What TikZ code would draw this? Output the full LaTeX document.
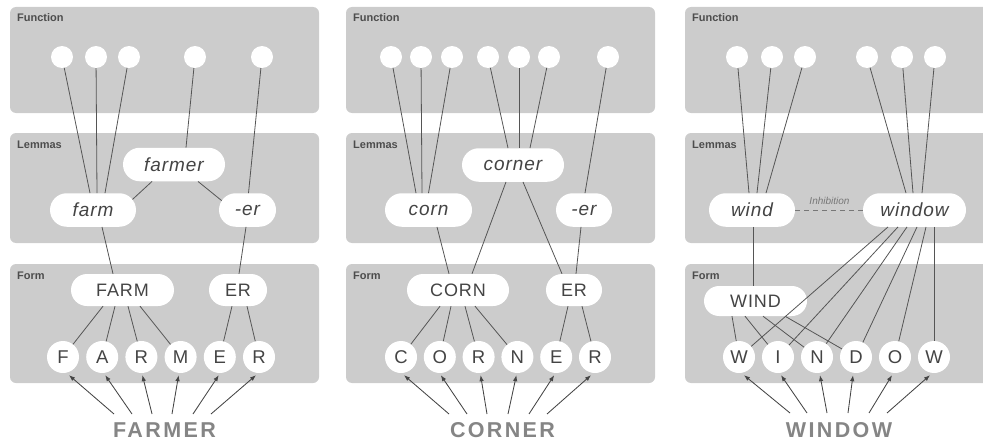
\documentclass[tikz,border=0pt]{standalone}
\usepackage{fontspec}
\setmainfont{Liberation Sans}
\usetikzlibrary{shapes.misc,arrows.meta}
\definecolor{panelgray}{HTML}{CCCCCC}
\definecolor{linegray}{HTML}{555555}
\definecolor{feedgray}{HTML}{444444}
\definecolor{textgray}{HTML}{444444}
\definecolor{wordgray}{HTML}{858585}
\definecolor{labelgray}{HTML}{4D4D4D}
\definecolor{inhibgray}{HTML}{777777}
\begin{document}
\begin{tikzpicture}[x=1pt,y=-1pt,
  panel/.style={fill=panelgray,rounded corners=6pt},
  paneltitle/.style={anchor=west,inner sep=0pt,font=\bfseries\fontsize{11}{13}\selectfont,text=labelgray},
  fn/.style={circle,fill=white,minimum size=22pt,inner sep=0pt},
  lemma/.style={rounded rectangle,fill=white,minimum height=33.5pt,inner sep=0pt,
    font=\itshape\fontsize{19}{22}\selectfont\addfontfeature{LetterSpace=5},text=textgray},
  formbox/.style={rounded rectangle,fill=white,minimum height=32pt,inner sep=0pt,
    font=\fontsize{18}{21}\selectfont\addfontfeature{LetterSpace=5},text=textgray},
  letter/.style={circle,fill=white,minimum size=32pt,inner sep=0pt,
    font=\fontsize{18.5}{21}\selectfont,text=textgray},
  word/.style={inner sep=0pt,text=wordgray,
    font=\bfseries\fontsize{21.5}{25}\selectfont\addfontfeature{LetterSpace=11}},
  link/.style={draw=linegray,line width=0.8pt},
  feed/.style={draw=feedgray,line width=0.85pt,-{Latex[length=6pt,width=4.5pt]}},
  inhib/.style={draw=inhibgray,line width=0.9pt,dash pattern=on 5pt off 4pt},
  inhiblabel/.style={inner sep=0pt,text=inhibgray,font=\itshape\fontsize{10}{12}\selectfont}
]
\useasboundingbox (0,0) rectangle (983,444);
\clip (0,0) rectangle (983,444);

% three panels, each with Function / Lemmas / Form levels
\foreach \x/\k in {10/A,346/B,685/C}{
  \fill[panel] (\x,7) rectangle ++(309,106);
  \fill[panel] (\x,133) rectangle ++(309,110);
  \fill[panel] (\x,264) rectangle ++(309,119);
  \node[paneltitle] (fun\k) at (\x+7,18) {Function};
  \node[paneltitle] (lem\k) at (\x+7,144.5) {Lemmas};
  \node[paneltitle] (frm\k) at (\x+7,275.5) {Form};
}

% ---------- FARMER ----------
\foreach \n/\px in {1/62,2/96,3/129,4/195,5/262}
  \node[fn] (a\n) at (\px,57) {};
\node[lemma,minimum width=102pt] (farmer) at (174,164.5) {farmer};
\node[lemma,minimum width=86pt] (farm) at (93,210) {farm};
\node[lemma,minimum width=57pt] (erA) at (247.5,210) {-er};
\node[formbox,minimum width=103pt] (FARM) at (122.5,290) {FARM};
\node[formbox,minimum width=58pt] (ERA) at (238,290) {ER};
\foreach \n/\t [count=\i from 0] in {1/F,2/A,3/R,4/M,5/E,6/R}
  \node[letter] (p\n) at (63+39.2*\i,357) {\t};
\node[word] (w1) at (164.5,430) {FARMER};

\draw[link] (a1) -- ([xshift=-3pt]farm.north);
\draw[link] (a2) -- ([xshift=4pt]farm.north);
\draw[link] (a3) -- ([xshift=12pt]farm.north);
\draw[link] (a4) -- ([xshift=12pt]farmer.north);
\draw[link] (a5) -- ([xshift=1pt]erA.north);
\draw[link] ([xshift=-22pt]farmer.south) -- (farm.15);
\draw[link] ([xshift=24pt]farmer.south) -- (erA.160);
\draw[link] ([xshift=9pt]farm.south) -- ([xshift=-9.5pt]FARM.north);
\draw[link] ([xshift=-1.5pt]erA.south) -- ([xshift=1pt]ERA.north);
\foreach \s/\n in {-19.5/1,-7.5/2,5.5/3,17.5/4}
  \draw[link] ([xshift=\s pt]FARM.south) -- (p\n);
\draw[link] ([xshift=-6pt]ERA.south) -- (p5);
\draw[link] ([xshift=9pt]ERA.south) -- (p6);
\foreach \s/\n/\e in {-50.5/1/6,-32.5/2/3,-12.5/3/1,7.5/4/-2,28.5/5/-1,46.5/6/-3}
  \draw[feed] ([xshift=\s pt,yshift=16pt]w1.center) -- ([xshift=\e pt,yshift=-2pt]p\n.south);

% ---------- CORNER ----------
\foreach \n/\px in {1/391,2/421,3/452,4/488,5/519,6/549,7/608}
  \node[fn] (b\n) at (\px,57) {};
\node[lemma,minimum width=102pt] (corner) at (513,165) {corner};
\node[lemma,minimum width=87pt] (corn) at (428.5,210) {corn};
\node[lemma,minimum width=56pt] (erB) at (584,210) {-er};
\node[formbox,minimum width=102pt] (CORN) at (458,290) {CORN};
\node[formbox,minimum width=56pt] (ERB) at (574,290) {ER};
\foreach \n/\t [count=\i from 0] in {1/C,2/O,3/R,4/N,5/E,6/R}
  \node[letter] (q\n) at (401+38.8*\i,357) {\t};
\node[word] (w2) at (502.5,430) {CORNER};

\draw[link] (b1) -- ([xshift=-12.5pt]corn.north);
\draw[link] (b2) -- ([xshift=-6.5pt]corn.north);
\draw[link] (b3) -- (corn.north);
\draw[link] (b4) -- ([xshift=-5pt]corner.north);
\draw[link] (b5) -- ([xshift=6pt]corner.north);
\draw[link] (b6) -- ([xshift=17pt]corner.north);
\draw[link] (b7) -- ([xshift=1pt]erB.north);
\draw[link] ([xshift=-7pt]corner.south) -- ([xshift=14pt]CORN.north);
\draw[link] ([xshift=10pt]corner.south) -- ([xshift=-12pt]ERB.north);
\draw[link] ([xshift=8.5pt]corn.south) -- ([xshift=-9pt]CORN.north);
\draw[link] ([xshift=-3pt]erB.south) -- ([xshift=2pt]ERB.north);
\foreach \s/\n in {-18/1,-7/2,7/3,17/4}
  \draw[link] ([xshift=\s pt]CORN.south) -- (q\n);
\draw[link] ([xshift=-6pt]ERB.south) -- (q5);
\draw[link] ([xshift=8pt]ERB.south) -- (q6);
\foreach \s/\n/\e in {-53.5/1/3,-35.5/2/1,-15.5/3/2,5.5/4/-1,26.5/5/-2,44.5/6/-4}
  \draw[feed] ([xshift=\s pt,yshift=16pt]w2.center) -- ([xshift=\e pt,yshift=-2pt]q\n.south);

% ---------- WINDOW ----------
\foreach \n/\px in {1/737,2/772,3/805,4/867,5/902,6/935}
  \node[fn] (c\n) at (\px,57) {};
\node[lemma,minimum width=86pt] (wind) at (752,210) {wind};
\node[lemma,minimum width=103pt] (window) at (914.5,210) {window};
\node[formbox,minimum width=103pt,minimum height=30pt] (WIND) at (755.5,301) {WIND};
\foreach \n/\t [count=\i from 0] in {1/W,2/I,3/N,4/D,5/O,6/W}
  \node[letter] (r\n) at (739+39*\i,357) {\t};
\node[word] (w3) at (839,430) {WINDOW};

\draw[link] (c1) -- ([xshift=-3pt]wind.north);
\draw[link] (c2) -- ([xshift=5pt]wind.north);
\draw[link] (c3) -- ([xshift=14pt]wind.north);
\draw[link] (c4) -- ([xshift=-8.5pt]window.north);
\draw[link] (c5) -- ([xshift=-1.5pt]window.north);
\draw[link] (c6) -- ([xshift=7.5pt]window.north);
\draw[link] ([xshift=1pt]wind.south) -- ([xshift=-2.5pt]WIND.north);
\draw[inhib] (wind.east) -- (window.west);
\node[inhiblabel] (inh) at (829.5,201) {Inhibition};
\foreach \s/\n in {-23.5/1,-10.5/2,7.5/3,29.5/4}
  \draw[link] ([xshift=\s pt]WIND.south) -- (r\n);
\foreach \s/\n in {-26.5/1,-16.5/2,-7.5/3,2.5/4,11.5/5,19.5/6}
  \draw[link] ([xshift=\s pt]window.south) -- (r\n);
\foreach \s/\n/\e in {-49/1/5,-32/2/3,-12/3/3,9/4/-3,30/5/-3,48/6/-4}
  \draw[feed] ([xshift=\s pt,yshift=17pt]w3.center) -- ([xshift=\e pt,yshift=-2pt]r\n.south);
\end{tikzpicture}
\end{document}
